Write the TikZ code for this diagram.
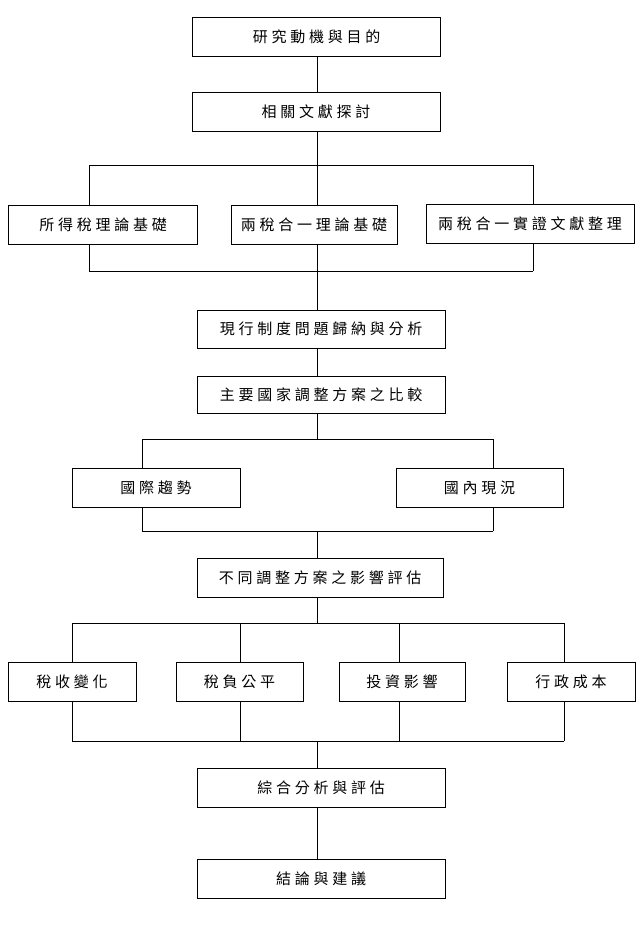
\documentclass[tikz,border=0pt]{standalone}
\usepackage{fontspec}
\newfontfamily\cjk[LetterSpace=25]{Noto Sans CJK TC}
\begin{document}
\begin{tikzpicture}[x=1pt,y=-1pt,
  box/.style={draw, line width=0.9pt, minimum height=39pt, inner sep=0pt, font=\cjk\fontsize{15}{17}\selectfont},
  conn/.style={line width=0.9pt}]
\useasboundingbox (0,0) rectangle (637,926);
\coordinate (sp) at (317,0);
% nodes
\node[box, minimum width=248pt] (b1) at (316.5,37) {研究動機與目的};
\node[box, minimum width=248pt] (b2) at (316,111.5) {相關文獻探討};
\node[box, minimum width=189pt] (a1) at (103,225) {所得稅理論基礎};
\node[box, minimum width=166pt] (a2) at (314,225) {兩稅合一理論基礎};
\node[box, minimum width=208pt] (a3) at (530,224) {兩稅合一實證文獻整理};
\node[box, minimum width=248pt, minimum height=38pt] (b4) at (321,329) {現行制度問題歸納與分析};
\node[box, minimum width=248pt, minimum height=37pt] (b5) at (321,394.5) {主要國家調整方案之比較};
\node[box, minimum width=168pt] (c1) at (156,487.5) {國際趨勢};
\node[box, minimum width=167pt] (c2) at (479.5,488) {國內現況};
\node[box, minimum width=246pt] (b7) at (320,577.5) {不同調整方案之影響評估};
\node[box, minimum width=128pt] (d1) at (72,681.5) {稅收變化};
\node[box, minimum width=127pt] (d2) at (239.5,681.5) {稅負公平};
\node[box, minimum width=126pt] (d3) at (402,681.5) {投資影響};
\node[box, minimum width=128pt] (d4) at (571,681.5) {行政成本};
\node[box, minimum width=248pt] (b9) at (321,787.5) {綜合分析與評估};
\node[box, minimum width=248pt] (b10) at (321,878.5) {結論與建議};
% junction coordinates
\coordinate (t3l) at (89,165); \coordinate (t3r) at (533,165); \coordinate (t3c) at (317,165);
\coordinate (u3l) at (89,271); \coordinate (u3r) at (533,271); \coordinate (u3c) at (317,271);
\coordinate (t6l) at (142,439); \coordinate (t6r) at (493,439); \coordinate (t6c) at (317,439);
\coordinate (u6l) at (142,531); \coordinate (u6r) at (493,531); \coordinate (u6c) at (317,531);
\coordinate (t8a) at (72,623); \coordinate (t8b) at (240,623); \coordinate (t8c) at (399,623); \coordinate (t8d) at (564,623); \coordinate (t8m) at (317,623);
\coordinate (u8a) at (72,741); \coordinate (u8b) at (240,741); \coordinate (u8c) at (399,741); \coordinate (u8d) at (564,741); \coordinate (u8m) at (317,741);
% connectors
\draw[conn] (b1.south -| sp) -- (b2.north -| sp);
\draw[conn] (b2.south -| sp) -- (t3c);
\draw[conn] (t3l) -- (t3r);
\draw[conn] (t3l) -- (a1.north -| t3l);
\draw[conn] (t3c) -- (a2.north -| t3c);
\draw[conn] (t3r) -- (a3.north -| t3r);
\draw[conn] (a1.south -| u3l) -- (u3l);
\draw[conn] (a2.south -| u3c) -- (u3c);
\draw[conn] (a3.south -| u3r) -- (u3r);
\draw[conn] (u3l) -- (u3r);
\draw[conn] (u3c) -- (b4.north -| sp);
\draw[conn] (b4.south -| sp) -- (b5.north -| sp);
\draw[conn] (b5.south -| sp) -- (t6c);
\draw[conn] (t6l) -- (t6r);
\draw[conn] (t6l) -- (c1.north -| t6l);
\draw[conn] (t6r) -- (c2.north -| t6r);
\draw[conn] (c1.south -| u6l) -- (u6l);
\draw[conn] (c2.south -| u6r) -- (u6r);
\draw[conn] (u6l) -- (u6r);
\draw[conn] (u6c) -- (b7.north -| sp);
\draw[conn] (b7.south -| sp) -- (t8m);
\draw[conn] (t8a) -- (t8d);
\draw[conn] (t8a) -- (d1.north -| t8a);
\draw[conn] (t8b) -- (d2.north -| t8b);
\draw[conn] (t8c) -- (d3.north -| t8c);
\draw[conn] (t8d) -- (d4.north -| t8d);
\draw[conn] (d1.south -| u8a) -- (u8a);
\draw[conn] (d2.south -| u8b) -- (u8b);
\draw[conn] (d3.south -| u8c) -- (u8c);
\draw[conn] (d4.south -| u8d) -- (u8d);
\draw[conn] (u8a) -- (u8d);
\draw[conn] (u8m) -- (b9.north -| sp);
\draw[conn] (b9.south -| sp) -- (b10.north -| sp);
\end{tikzpicture}
\end{document}
